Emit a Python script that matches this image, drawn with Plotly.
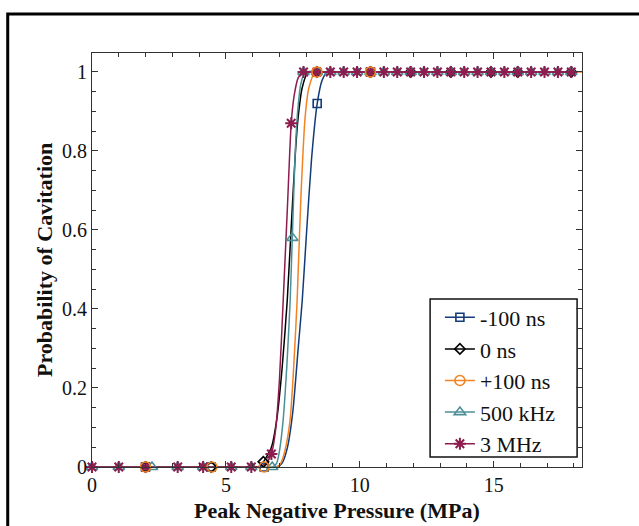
import plotly.graph_objects as go

# ---------------- data ----------------
series_names = ["-100 ns", "0 ns", "+100 ns", "500 kHz", "3 MHz"]

# fitted curves
curve_m100_x = [0, 3, 6.0, 6.9, 7.1, 7.3, 7.5, 7.7, 7.85, 8.0, 8.2, 8.41, 8.6, 8.8, 9.3, 10, 12, 15, 17.9]
curve_m100_y = [0, 0, 0, 0, 0.01, 0.05, 0.14, 0.3, 0.42, 0.58, 0.78, 0.92, 0.98, 1, 1, 1, 1, 1, 1]

curve_0_x = [0, 3, 5.5, 6.2, 6.4, 6.7, 6.9, 7.1, 7.29, 7.45, 7.6, 7.7, 7.85, 8.07, 8.5, 9.5, 12, 15, 17.9]
curve_0_y = [0, 0, 0, 0, 0.013, 0.05, 0.12, 0.25, 0.42, 0.62, 0.8, 0.886, 0.96, 1, 1, 1, 1, 1, 1]

curve_p100_x = [0, 3, 6.0, 6.9, 7.05, 7.2, 7.4, 7.53, 7.66, 7.8, 7.96, 8.1, 8.34, 8.8, 10, 12, 15, 18.3]
curve_p100_y = [0, 0, 0, 0, 0.01, 0.04, 0.12, 0.25, 0.42, 0.68, 0.886, 0.96, 1, 1, 1, 1, 1, 1]

curve_500k_x = [0, 3, 6.0, 6.75, 6.9, 7.0, 7.14, 7.28, 7.40, 7.48, 7.58, 7.68, 7.8, 7.96, 8.4, 9.5, 12, 15, 17.9]
curve_500k_y = [0, 0, 0, 0, 0.01, 0.04, 0.12, 0.26, 0.42, 0.58, 0.78, 0.9, 0.97, 1, 1, 1, 1, 1, 1]

curve_3m_x = [0, 3, 5.5, 6.2, 6.5, 6.7, 6.85, 7.0, 7.14, 7.3, 7.44, 7.55, 7.7, 7.85, 8.0, 8.5, 9.5, 12, 15, 17.9]
curve_3m_y = [0, 0, 0, 0, 0.01, 0.033, 0.09, 0.22, 0.42, 0.66, 0.87, 0.94, 0.985, 0.998, 1, 1, 1, 1, 1, 1]

# measured points (markers)
pts_m100_x = [2.0, 4.45, 6.43, 8.41, 10.4]
pts_m100_y = [0, 0, 0, 0.92, 1]

pts_0_x = [2.0, 4.45, 6.4, 8.4, 10.4, 11.9, 13.4, 14.9, 15.9, 17.9]
pts_0_y = [0, 0, 0.013, 1, 1, 1, 1, 1, 1, 1]

pts_p100_x = [2.0, 4.48, 6.43, 8.4, 10.4]
pts_p100_y = [0, 0, 0, 1, 1]

pts_500k_x = [0, 1.0, 2.24, 3.2, 4.15, 5.2, 5.95, 6.73, 7.48,
              7.9, 8.4, 8.9, 9.4, 9.9, 10.4, 10.9, 11.4, 11.9, 12.4, 12.9,
              13.4, 13.9, 14.4, 14.9, 15.4, 15.9, 16.4, 16.9, 17.4, 17.9]
pts_500k_y = [0, 0, 0, 0, 0, 0, 0, 0, 0.58] + [1] * 21

pts_3m_x = [0, 1.0, 2.0, 3.2, 4.15, 5.2, 5.95, 6.7, 7.44,
            7.9, 8.4, 8.9, 9.4, 9.9, 10.4, 10.9, 11.4, 11.9, 12.4, 12.9,
            13.4, 13.9, 14.4, 14.9, 15.4, 15.9, 16.4, 16.9, 17.4, 17.9]
pts_3m_y = [0, 0, 0, 0, 0, 0, 0, 0.033, 0.87] + [1] * 21

x_ticks = [0, 5, 10, 15]
y_ticks = [0, 0.2, 0.4, 0.6, 0.8, 1]
y_tick_labels = ["0", "0.2", "0.4", "0.6", "0.8", "1"]

colors = ["#133B7A", "#000000", "#F28322", "#4D8F98", "#8C1D4E"]
symbols = ["square-open", "diamond-open", "circle-open", "triangle-up-open", "asterisk-open"]
msizes = [8, 8, 10, 10, 10]
mlw = [1.6, 1.6, 1.6, 1.6, 2.0]

curves = [(curve_m100_x, curve_m100_y), (curve_0_x, curve_0_y), (curve_p100_x, curve_p100_y),
          (curve_500k_x, curve_500k_y), (curve_3m_x, curve_3m_y)]
points = [(pts_m100_x, pts_m100_y), (pts_0_x, pts_0_y), (pts_p100_x, pts_p100_y),
          (pts_500k_x, pts_500k_y), (pts_3m_x, pts_3m_y)]

fig = go.Figure()
# fitted lines
for i, name in enumerate(series_names):
    cx, cy = curves[i]
    fig.add_trace(go.Scatter(x=cx, y=cy, mode="lines", line=dict(color=colors[i], width=1.5, shape="spline", smoothing=0.6),
                             showlegend=False, hoverinfo="skip", cliponaxis=True))
# measured markers (orange circles drawn last so they stay visible)
for i in [0, 1, 3, 4, 2]:
    px, py = points[i]
    fig.add_trace(go.Scatter(x=px, y=py, mode="markers", showlegend=False, cliponaxis=False,
                             marker=dict(symbol=symbols[i], size=msizes[i], color=colors[i],
                                         line=dict(color=colors[i], width=mlw[i]))))
# legend entries
for i, name in enumerate(series_names):
    fig.add_trace(go.Scatter(x=[None], y=[None], mode="lines+markers", name=name, legendgroup=name,
                             line=dict(color=colors[i], width=1.5),
                             marker=dict(symbol=symbols[i], size=msizes[i], color=colors[i],
                                         line=dict(color=colors[i], width=mlw[i]))))

axis_common = dict(showline=True, linecolor="#333333", linewidth=1, mirror="ticks", ticks="inside",
                   ticklen=6, tickwidth=1, tickcolor="#333333", showgrid=False, zeroline=False,
                   automargin=False,
                   tickfont=dict(family="Liberation Serif", size=20, color="#111111"))

fig.update_layout(
    width=639, height=526,
    margin=dict(l=92, r=57, t=53, b=59),
    paper_bgcolor="white", plot_bgcolor="white",
    xaxis=dict(range=[0, 18.3], tickvals=x_ticks,
               minor=dict(ticks="inside", dtick=1, tick0=0, ticklen=4, tickcolor="#333333"),
               **axis_common),
    yaxis=dict(range=[0, 1.048], tickvals=y_ticks, ticktext=y_tick_labels,
               minor=dict(ticks="inside", dtick=0.05, tick0=0, ticklen=4, tickcolor="#333333"),
               **axis_common),
    legend=dict(x=0.71, y=0.006, xanchor="left", yanchor="bottom", bgcolor="rgba(0,0,0,0)",
                borderwidth=0, traceorder="grouped", tracegroupgap=0,
                font=dict(family="Liberation Serif", size=22, color="#111111"), itemwidth=30),
    annotations=[
        dict(text="<b>Peak Negative Pressure (MPa)</b>", xref="paper", yref="paper", x=0.5, y=-0.106,
             xanchor="center", yanchor="middle", showarrow=False,
             font=dict(family="Liberation Serif", size=22, color="#111111")),
        dict(text="<b>Probability of Cavitation</b>", xref="paper", yref="paper", x=-0.098, y=0.5,
             xanchor="center", yanchor="middle", textangle=-90, showarrow=False,
             font=dict(family="Liberation Serif", size=22, color="#111111")),
    ],
    shapes=[
        dict(type="rect", xref="paper", yref="paper", x0=-0.172, x1=1.15, y0=-0.17, y1=1.094,
             line=dict(color="black", width=3), fillcolor="rgba(0,0,0,0)", layer="above"),
        dict(type="rect", xref="paper", yref="paper", x0=0.690, x1=0.990, y0=0.024, y1=0.406,
             line=dict(color="#111111", width=1.5), fillcolor="white", layer="below"),
    ],
    showlegend=True,
)

fig.write_html("out.html", config={"displayModeBar": False},
               post_script="document.body.style.margin='0px';")
